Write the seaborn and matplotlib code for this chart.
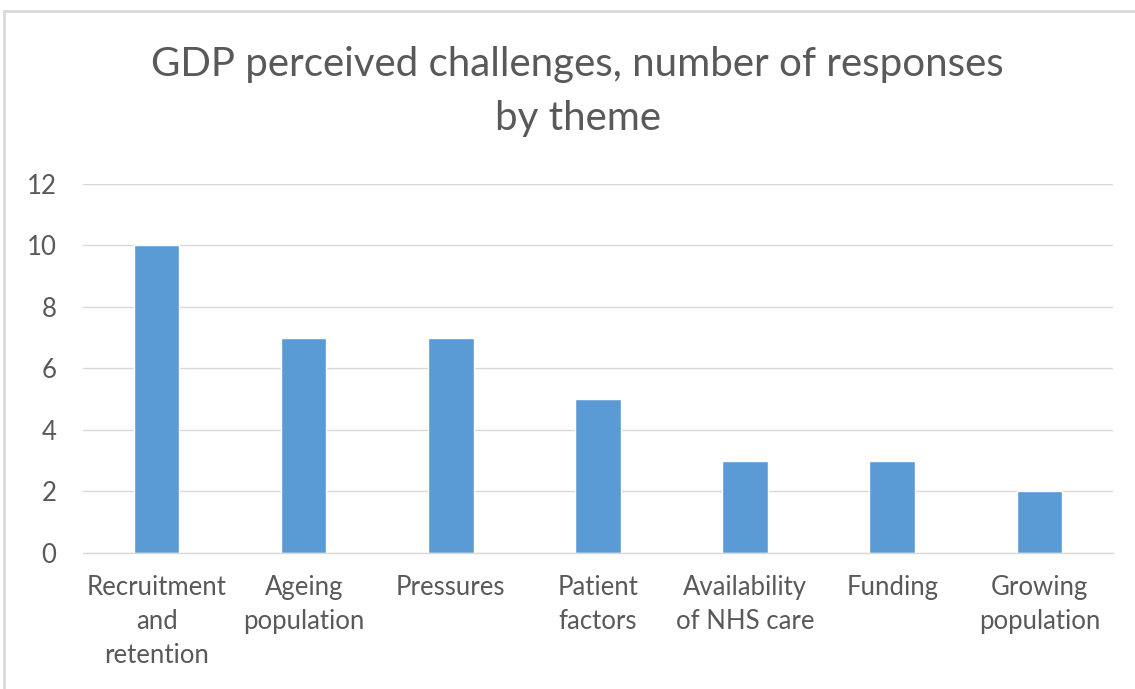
import matplotlib
matplotlib.use("Agg")
import matplotlib.pyplot as plt
import seaborn as sns
import pandas as pd
from matplotlib.patches import Rectangle

# ======================================================================
# DATA
# ======================================================================
themes = ["Recruitment\nand\nretention", "Ageing\npopulation", "Pressures",
          "Patient\nfactors", "Availability\nof NHS care", "Funding",
          "Growing\npopulation"]
responses = [10, 7, 7, 5, 3, 3, 2]
y_ticks = [0, 2, 4, 6, 8, 10, 12]

BAR_COLOR = "#5b9bd5"
TEXT_COLOR = "#595959"
GRID_COLOR = "#d9d9d9"

sns.set_style("white")
plt.rcParams["font.family"] = ["Lato", "DejaVu Sans"]

df = pd.DataFrame({"theme": themes, "responses": responses})

fig = plt.figure(figsize=(11.35, 6.89), dpi=100)
ax = fig.add_axes([0.0731, 0.1974, 0.9075, 0.5356])

sns.barplot(data=df, x="theme", y="responses", color=BAR_COLOR,
            width=0.31, ax=ax, saturation=1)

ax.set_ylim(0, 12)
ax.set_yticks(y_ticks)
ax.set_xlim(-0.5, len(themes) - 0.5)
ax.yaxis.grid(True, color=GRID_COLOR, linewidth=1)
ax.set_axisbelow(True)
for side in ["top", "right", "left"]:
    ax.spines[side].set_visible(False)
ax.spines["bottom"].set_color(GRID_COLOR)
ax.spines["bottom"].set_linewidth(1)
ax.tick_params(axis="both", length=0, labelsize=18.5, labelcolor=TEXT_COLOR)
ax.tick_params(axis="x", pad=16)
ax.tick_params(axis="y", pad=19)
for lbl in ax.get_xticklabels():
    lbl.set_linespacing(1.45)
ax.set_xlabel("")
ax.set_ylabel("")

fig.text(0.509, 0.867, "GDP perceived challenges, number of responses\nby theme",
         ha="center", va="center", fontsize=29, color=TEXT_COLOR,
         linespacing=1.55)

# chart frame
fig.patches.append(Rectangle((4 / 1135, -0.05), 1.2, 1 - 11 / 689 + 0.05,
                             transform=fig.transFigure, fill=False,
                             edgecolor=GRID_COLOR, linewidth=2))

fig.savefig("out.png", dpi=100)
